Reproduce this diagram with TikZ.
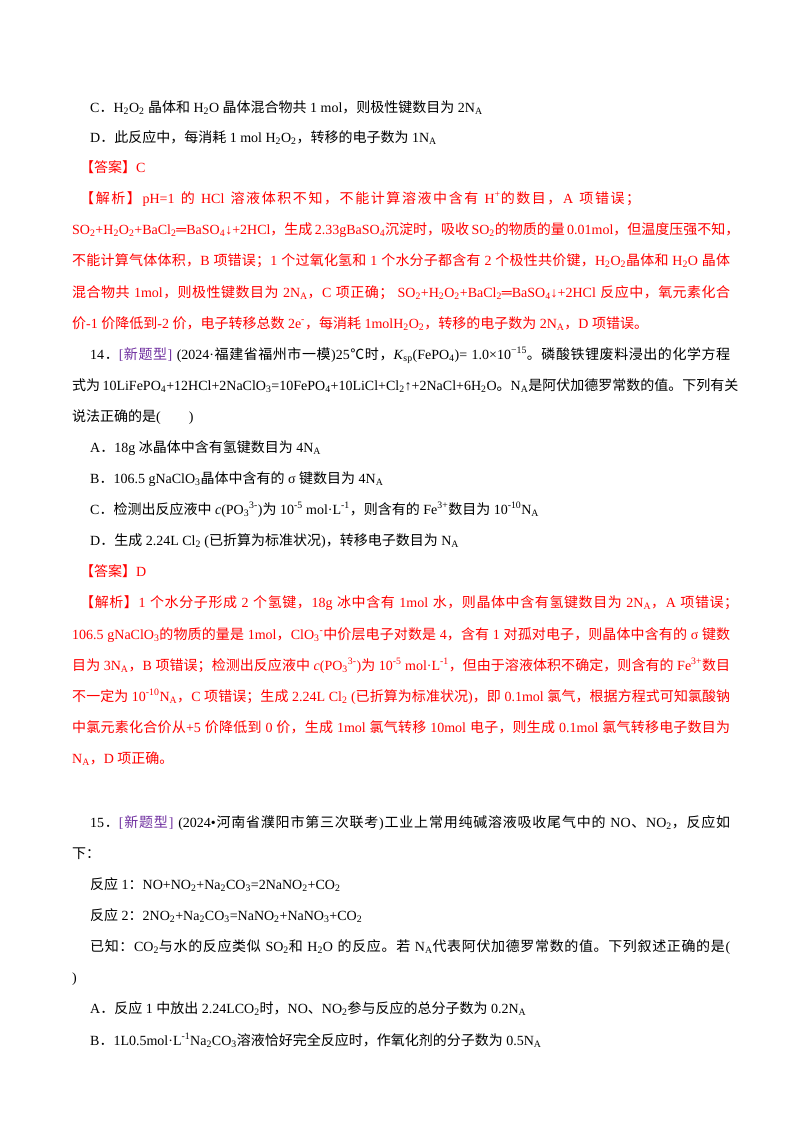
\documentclass[tikz,border=0pt]{standalone}
\usepackage{fontspec}
\setmainfont{Liberation Serif}
\newfontfamily\lat{Liberation Serif}
\newfontfamily\cjk{Noto Sans CJK SC}
\XeTeXinterchartokenstate=1
\newXeTeXintercharclass\CJKcls
\count255="4E00 \loop\XeTeXcharclass\count255=\CJKcls\ifnum\count255<"9FFF\advance\count255 1\repeat
\count255="3000 \loop\XeTeXcharclass\count255=\CJKcls\ifnum\count255<"303F\advance\count255 1\repeat
\count255="FF00 \loop\XeTeXcharclass\count255=\CJKcls\ifnum\count255<"FF60\advance\count255 1\repeat
\XeTeXcharclass"2103=\CJKcls
\XeTeXinterchartoks 0 \CJKcls={\hskip0pt plus 1pt\cjk}
\XeTeXinterchartoks 4095 \CJKcls={\cjk}
\XeTeXinterchartoks \CJKcls 0={\hskip0pt plus 1pt\lat}
\XeTeXinterchartoks \CJKcls 4095={\lat}
\XeTeXinterchartoks 4095 0={\lat}
\XeTeXinterchartoks \CJKcls \CJKcls={\hskip0pt plus 1pt}
\newcommand\dn[1]{\textsubscript{#1}}
\newcommand\sps[1]{\textsuperscript{#1}}
\definecolor{ans}{RGB}{255,0,0}
\definecolor{tag}{RGB}{112,48,160}
\tikzset{ln/.style={anchor=base west,inner sep=0pt,font=\fontsize{14}{16}\selectfont}}
\newcommand\Ln[4]{\node[ln] (#1) at (#2pt,-#3pt) {#4};}
\newcommand\Fl[4]{\node[ln] (#1) at (#2pt,-#3pt) {\hbox to 658pt{#4}};}
\begin{document}
\begin{tikzpicture}
\useasboundingbox (0,0) rectangle (800pt,-1132pt);
\fill[white] (0,0) rectangle (800pt,-1132pt);
\Ln{l1}{90}{112}{C．H\dn{2}O\dn{2} 晶体和 H\dn{2}O 晶体混合物共 1 mol，则极性键数目为 2N\dn{A}}
\Ln{l2}{90}{142}{D．此反应中，每消耗 1 mol H\dn{2}O\dn{2}，转移的电子数为 1N\dn{A}}
\Ln{l3}{80}{172}{\color{ans}【答案】C}
\Ln{l4}{80}{203}{\hbox to 560pt{\color{ans}【解析】pH=1 的 HCl 溶液体积不知，不能计算溶液中含有 H\sps{+}的数目，A 项错误；}}
\Fl{l5}{72}{234}{\color{ans}SO\dn{2}+H\dn{2}O\dn{2}+BaCl\dn{2}═BaSO\dn{4}↓+2HCl，生成 2.33gBaSO\dn{4}沉淀时，吸收 SO\dn{2}的物质的量 0.01mol，但温度压强不知，}
\Fl{l6}{72}{265}{\color{ans}不能计算气体体积，B 项错误；1 个过氧化氢和 1 个水分子都含有 2 个极性共价键，H\dn{2}O\dn{2}晶体和 H\dn{2}O 晶体}
\Fl{l7}{72}{297}{\color{ans}混合物共 1mol，则极性键数目为 2N\dn{A}，C 项正确； SO\dn{2}+H\dn{2}O\dn{2}+BaCl\dn{2}═BaSO\dn{4}↓+2HCl 反应中，氧元素化合}
\Ln{l8}{72}{328}{\color{ans}价-1 价降低到-2 价，电子转移总数 2e\sps{-}，每消耗 1molH\dn{2}O\dn{2}，转移的电子数为 2N\dn{A}，D 项错误。}
\Ln{l9}{90}{359}{\hbox to 640pt{14．\textcolor{tag}{[新题型]} (2024·福建省福州市一模)25℃时，\textit{K}\dn{sp}(FePO\dn{4})= 1.0×10\sps{−15}。磷酸铁锂废料浸出的化学方程}}
\Fl{l10}{72}{390}{式为 10LiFePO\dn{4}+12HCl+2NaClO\dn{3}=10FePO\dn{4}+10LiCl+Cl\dn{2}↑+2NaCl+6H\dn{2}O。N\dn{A}是阿伏加德罗常数的值。下列有关}
\Ln{l11}{72}{421}{说法正确的是(　　)}
\Ln{l12}{90}{452}{A．18g 冰晶体中含有氢键数目为 4N\dn{A}}
\Ln{l13}{90}{483}{B．106.5 gNaClO\dn{3}晶体中含有的 σ 键数目为 4N\dn{A}}
\Ln{l14}{90}{514}{C．检测出反应液中 \textit{c}(PO\dn{3}\sps{3-})为 10\sps{-5} mol·L\sps{-1}，则含有的 Fe\sps{3+}数目为 10\sps{-10}N\dn{A}}
\Ln{l15}{90}{545}{D．生成 2.24L Cl\dn{2} (已折算为标准状况)，转移电子数目为 N\dn{A}}
\Ln{l16}{80}{576}{\color{ans}【答案】D}
\Fl{l17}{80}{607}{\color{ans}【解析】1 个水分子形成 2 个氢键，18g 冰中含有 1mol 水，则晶体中含有氢键数目为 2N\dn{A}，A 项错误；}
\Fl{l18}{72}{639}{\color{ans}106.5 gNaClO\dn{3}的物质的量是 1mol，ClO\dn{3}\sps{-}中价层电子对数是 4，含有 1 对孤对电子，则晶体中含有的 σ 键数}
\Fl{l19}{72}{670}{\color{ans}目为 3N\dn{A}，B 项错误；检测出反应液中 \textit{c}(PO\dn{3}\sps{3-})为 10\sps{-5} mol·L\sps{-1}，但由于溶液体积不确定，则含有的 Fe\sps{3+}数目}
\Fl{l20}{72}{701}{\color{ans}不一定为 10\sps{-10}N\dn{A}，C 项错误；生成 2.24L Cl\dn{2} (已折算为标准状况)，即 0.1mol 氯气，根据方程式可知氯酸钠}
\Fl{l21}{72}{732}{\color{ans}中氯元素化合价从+5 价降低到 0 价，生成 1mol 氯气转移 10mol 电子，则生成 0.1mol 氯气转移电子数目为}
\Ln{l22}{72}{763}{\color{ans}N\dn{A}，D 项正确。}
\Ln{l23}{90}{827}{\hbox to 640pt{15．\textcolor{tag}{[新题型]} (2024•河南省濮阳市第三次联考)工业上常用纯碱溶液吸收尾气中的 NO、NO\dn{2}，反应如}}
\Ln{l24}{72}{858}{下：}
\Ln{l25}{90}{889}{反应 1：NO+NO\dn{2}+Na\dn{2}CO\dn{3}=2NaNO\dn{2}+CO\dn{2}}
\Ln{l26}{90}{920}{反应 2：2NO\dn{2}+Na\dn{2}CO\dn{3}=NaNO\dn{2}+NaNO\dn{3}+CO\dn{2}}
\Ln{l27}{90}{951}{\hbox to 640pt{已知：CO\dn{2}与水的反应类似 SO\dn{2}和 H\dn{2}O 的反应。若 N\dn{A}代表阿伏加德罗常数的值。下列叙述正确的是(}}
\Ln{l28}{72}{982}{)}
\Ln{l29}{90}{1013}{A．反应 1 中放出 2.24LCO\dn{2}时，NO、NO\dn{2}参与反应的总分子数为 0.2N\dn{A}}
\Ln{l30}{90}{1045}{B．1L0.5mol·L\sps{-1}Na\dn{2}CO\dn{3}溶液恰好完全反应时，作氧化剂的分子数为 0.5N\dn{A}}
\end{tikzpicture}
\end{document}
